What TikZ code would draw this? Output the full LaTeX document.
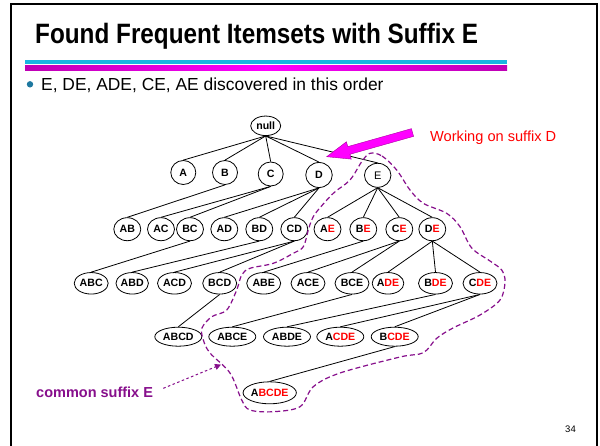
\documentclass[tikz,border=0pt]{standalone}
\usepackage{fontspec}
\setmainfont{Liberation Sans}
\usetikzlibrary{shapes.geometric,arrows.meta}
\definecolor{cyanline}{RGB}{25,182,225}
\definecolor{magline}{RGB}{255,0,255}
\definecolor{magdark}{RGB}{170,0,160}
\definecolor{magend}{RGB}{190,0,180}
\definecolor{bulletc}{RGB}{30,120,160}
\definecolor{purp}{RGB}{135,15,140}
\definecolor{redc}{RGB}{255,0,0}
\newcommand{\rd}[1]{\textcolor{redc}{#1}}
\begin{document}
\begin{tikzpicture}[x=1pt,y=-1pt,
 nd/.style={ellipse,draw,line width=0.8pt,inner sep=0pt,font=\bfseries\fontsize{10.6}{10.6}\selectfont},
 rootbox/.style={nd,minimum width=30pt,minimum height=19.5pt},
 r1/.style={nd,minimum width=25pt,minimum height=24pt},
 r2/.style={nd,minimum width=27pt,minimum height=23pt},
 r3/.style={nd,minimum width=34pt,minimum height=21.5pt},
 r3n/.style={nd,minimum width=28pt,minimum height=21.5pt},
 r4/.style={nd,minimum width=47pt,minimum height=19pt},
 r5/.style={nd,minimum width=47pt,minimum height=22pt},
 tedge/.style={line width=0.8pt},
 txt/.style={anchor=base west,inner sep=0pt}
 ]
\useasboundingbox (0,0) rectangle (600,445);
\fill[white] (0,0) rectangle (600,445);
% frame
\draw[line width=2pt] (10.5,450) -- (10.5,3.5) -- (597,3.5) -- (597,450);
% title
\node[txt] (title) at (35,43.3) {\scalebox{0.868}[1]{\bfseries\fontsize{28}{28}\selectfont Found Frequent Itemsets with Suffix E}};
\fill[cyanline] (25,60.2) rectangle (507,64);
\shade[left color=magend,right color=magend,middle color=magline] (25,65.8) rectangle (507,70);
% bullet
\fill[bulletc] (30,84.3) circle[radius=3.2pt];
\node[txt,font=\fontsize{17.4}{17.4}\selectfont] (bul) at (41,90) {E, DE, ADE, CE, AE discovered in this order};
% tree nodes
\node[rootbox] (root) at (265.7,125.8) {null};
\node[r1] (A) at (183.3,172.5) {A};
\node[r1] (B) at (225,172.5) {B};
\node[r1] (C) at (270.7,174) {C};
\node[r1,minimum width=26.5pt,minimum height=25pt] (D) at (319,175) {D};
\node[r1,minimum width=26.5pt,font=\fontsize{11}{11}\selectfont] (E) at (377.7,175.3) {E};
\node[r2] (AB) at (127.3,229.2) {AB};
\node[r2] (AC) at (161,229.2) {AC};
\node[r2] (BC) at (190,229.2) {BC};
\node[r2] (AD) at (224.3,229.2) {AD};
\node[r2] (BD) at (259.3,229.2) {BD};
\node[r2] (CD) at (294.3,229.2) {CD};
\node[r2] (AE) at (327.5,229.2) {A\rd{E}};
\node[r2] (BE) at (363.3,229.2) {B\rd{E}};
\node[r2] (CE) at (399.3,229.2) {C\rd{E}};
\node[r2] (DE) at (432.3,229.2) {D\rd{E}};
\node[r3] (ABC) at (91.2,283.3) {ABC};
\node[r3n] (ABD) at (132.2,283.3) {ABD};
\node[r3] (ACD) at (174.5,283.3) {ACD};
\node[r3] (BCD) at (219.7,283.3) {BCD};
\node[r3] (ABE) at (263.7,283.3) {ABE};
\node[r3] (ACE) at (308,283.3) {ACE};
\node[r3] (BCE) at (352,283.3) {BCE};
\node[r3n] (ADE) at (388,283.3) {A\rd{DE}};
\node[r3] (BDE) at (435.5,283.3) {B\rd{DE}};
\node[r3] (CDE) at (480,283.3) {C\rd{DE}};
\node[r4] (ABCD) at (178.3,336.7) {ABCD};
\node[r4] (ABCE) at (232.3,336.7) {ABCE};
\node[r4] (ABDE) at (287,336.7) {ABDE};
\node[r4] (ACDE) at (340.3,336.7) {A\rd{CDE}};
\node[r4] (BCDE) at (394.7,336.7) {B\rd{CDE}};
\node[r5] (ABCDE) at (269.7,392.8) {A\rd{BCDE}};
% tree edges
\foreach \p/\c in {root/A,root/B,root/C,root/D,root/E,
  B/AB,C/AC,C/BC,D/AD,D/BD,D/CD,E/AE,E/BE,E/CE,E/DE,
  BC/ABC,BD/ABD,CD/ACD,CD/BCD,BE/ABE,CE/ACE,CE/BCE,DE/ADE,DE/BDE,DE/CDE,
  BCD/ABCD,BCE/ABCE,BDE/ABDE,CDE/ACDE,CDE/BCDE,BCDE/ABCDE}
  \draw[tedge] (\p.south) -- (\c.north);
% magenta arrow
\filldraw[fill=magline,draw=magdark,line width=0.4pt]
  (411.41,128.65) -- (347.75,146.61) -- (346.40,141.80) -- (326.7,156.7)
  -- (351.28,159.12) -- (349.93,154.31) -- (413.59,136.35) -- cycle;
\node[txt,text=redc,font=\fontsize{14.6}{14.6}\selectfont] (work) at (430,141.7) {Working on suffix D};
% dashed region
\draw[purp,line width=1.2pt,dash pattern=on 5pt off 3pt]
  plot[smooth cycle,tension=0.55] coordinates {
  (370,153.3) (382,156) (396.7,170) (410,190) (423.3,203.3) (446.7,213.3)
  (460,226.7) (471.7,248) (490,261) (501.7,270) (505,282) (500,300)
  (480,315) (453,328) (436.7,338.3) (423.3,352.7) (400,357) (340,373)
  (313.3,386.7) (300,406.7) (273.3,411.7) (250,410) (241.7,400) (230,373)
  (210,353) (203.3,340) (202,328) (211.7,316.7) (226.7,310) (236.7,290)
  (241.7,275) (250,268.3) (273.3,263.3) (293.3,253.3) (303.3,246.7)
  (308.3,230) (311.7,220) (316.7,211.7) (333.3,193.3) (350,180) (361.7,161.7)};
% common suffix label
\node[txt,text=purp,font=\bfseries\fontsize{14.5}{14.5}\selectfont] (cse) at (36,397) {common suffix E};
\coordinate (cs1) at (163.3,388.3);
\coordinate (cs2) at (221,364.6);
\draw[purp,line width=1pt,dash pattern=on 2.5pt off 2.5pt,-{Triangle[length=6pt,width=6pt]}] (cs1) -- (cs2);
% page number
\node[font=\fontsize{9.5}{9.5}\selectfont,inner sep=0pt] (pg) at (570.5,429) {34};
\end{tikzpicture}
\end{document}
